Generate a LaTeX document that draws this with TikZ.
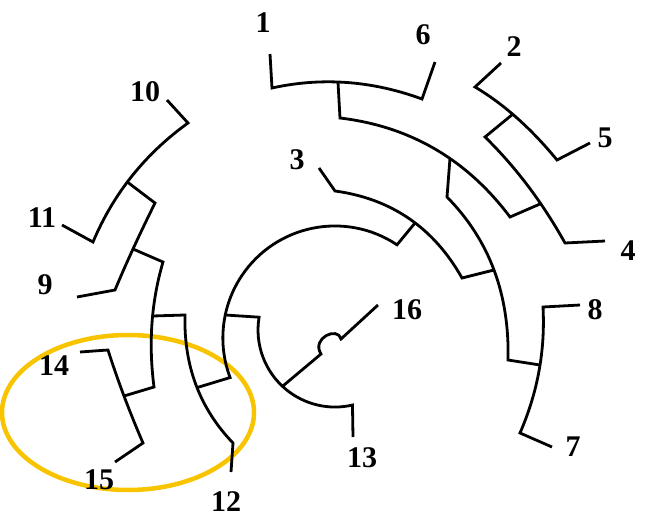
\documentclass[tikz,border=0pt]{standalone}
\usepackage{fontspec}
\setmainfont{Liberation Serif}
\definecolor{gold}{RGB}{248,196,0}
\begin{document}
\begin{tikzpicture}[x=1pt,y=-1pt,
  br/.style={line width=2.8pt, line join=miter, line cap=butt},
  lab/.style={font=\fontsize{30}{30}\selectfont\bfseries, inner sep=0pt},
  hl/.style={draw=gold, line width=4.5pt}]
\useasboundingbox (0,0) rectangle (666,519);
% highlight ellipse
\draw[hl] (128,412.5) ellipse [x radius=126pt, y radius=77.5pt];
% clade 1-6 and arc A
\draw[br] (270,54) -- (272,88) .. controls (322,77) and (372,80.67) .. (422,99) -- (435,62);
\draw[br] (338,82.3) -- (340,118) .. controls (410,126.33) and (466.67,159.33) .. (510,217) -- (540,204);
% clade 2-5-4
\draw[br] (501,63) -- (475,87) .. controls (503.67,104) and (531,128.33) .. (557,160) -- (590,143);
\draw[br] (513,114) -- (485,137) .. controls (515.67,167) and (542.33,202.33) .. (565,243) -- (605,241);
% arc B and clade 8-7
\draw[br] (450,158) -- (447,197) .. controls (489.33,240) and (509.67,294.33) .. (508,360) -- (540,365);
\draw[br] (580,305) -- (543,307) .. controls (545.33,350.33) and (537.67,392.33) .. (520,433) -- (552,447);
% leaf 3 arc
\draw[br] (319,168) -- (335,191) .. controls (391.33,198.67) and (433.67,227.67) .. (462,278) -- (494,270);
% inner arc C
\draw[br] (415,223) -- (397,244.8) arc[start angle=-56.3, end angle=-200.7, radius=112] -- (197,387.6);
% arc D with leaf 13
\draw[br] (225.4,315) -- (259.1,317.2) arc[start angle=189.6, end angle=76.9, radius=77] -- (353,437);
% leaf 16 with bump
\draw[br] (282.5,386.3) -- (321,354) .. controls (311,338) and (338,326) .. (341,339) -- (378,305);
% left clades
\draw[br] (167,100) -- (188,123) .. controls (145,154) and (113.33,193.67) .. (93,242) -- (62,225);
\draw[br] (127.3,182) -- (155,203) .. controls (139,235.33) and (125.67,264.33) .. (115,290) -- (77,297);
\draw[br] (133,249) -- (163,262) .. controls (151.33,301.67) and (148.33,343.33) .. (154,387) -- (124,396);
\draw[br] (152.5,316) -- (185,315) .. controls (183.67,365.67) and (199.67,408.33) .. (233,443) -- (231,472);
\draw[br] (80,352) -- (108,350) .. controls (117.67,380.33) and (129.33,411.33) .. (143,443) -- (115,462);
% labels
\node[lab] (n1) at (263,23) {1};
\node[lab] (n6) at (423,35) {6};
\node[lab] (n2) at (514,47) {2};
\node[lab] (n5) at (605,138) {5};
\node[lab] (n4) at (628,251) {4};
\node[lab] (n8) at (595,310) {8};
\node[lab] (n7) at (573,447) {7};
\node[lab] (n3) at (297,160) {3};
\node[lab] (n16) at (407,310) {16};
\node[lab] (n13) at (362,458) {13};
\node[lab] (n12) at (226,502) {12};
\node[lab] (n15) at (99,480) {15};
\node[lab] (n14) at (54,366) {14};
\node[lab] (n9) at (45,285) {9};
\node[lab] (n11) at (42,218) {11};
\node[lab] (n10) at (145,92) {10};
\end{tikzpicture}
\end{document}
